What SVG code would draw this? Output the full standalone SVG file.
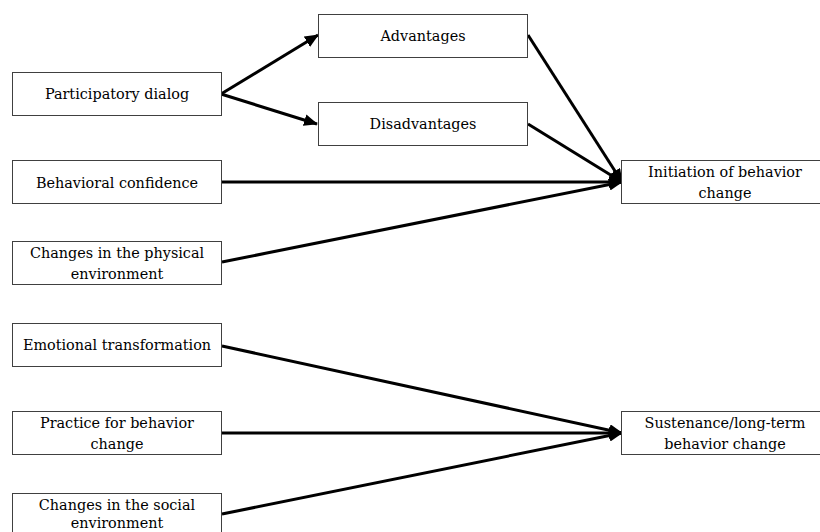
<svg xmlns="http://www.w3.org/2000/svg" width="820" height="532" viewBox="0 0 820 532">
<style>
.box{fill:#fff;stroke:#404040;stroke-width:1}
.t{font-family:'DejaVu Serif','Liberation Serif',serif;font-size:14.4px;fill:#000;text-anchor:middle}
.c{stroke:#000;stroke-width:3;fill:none;marker-end:url(#ah)}
</style>
<defs>
<marker id="ah" markerUnits="userSpaceOnUse" markerWidth="14" markerHeight="12" refX="13" refY="6" orient="auto">
<path d="M0,0 L14,6 L0,12 Z" fill="#000"/>
</marker>
</defs>
<rect width="820" height="532" fill="#fff"/>
<g id="connectors">
<line class="c" x1="221" y1="94" x2="318" y2="35"/>
<line class="c" x1="221" y1="94" x2="317" y2="124"/>
<line class="c" x1="528" y1="35" x2="622" y2="182"/>
<line class="c" x1="528" y1="124" x2="622" y2="182"/>
<line class="c" x1="222" y1="182" x2="622" y2="182"/>
<line class="c" x1="222" y1="262" x2="622" y2="182"/>
<line class="c" x1="222" y1="346" x2="622" y2="433"/>
<line class="c" x1="222" y1="433" x2="622" y2="433"/>
<line class="c" x1="222" y1="514" x2="622" y2="433"/>
</g>
<g id="participatory">
<rect class="box" x="12.5" y="72.5" width="209" height="43"/>
<text class="t" x="117" y="99">Participatory dialog</text>
</g>
<g id="advantages">
<rect class="box" x="318.5" y="14.5" width="209" height="43"/>
<text class="t" x="423" y="41">Advantages</text>
</g>
<g id="disadvantages">
<rect class="box" x="318.5" y="102.5" width="209" height="43"/>
<text class="t" x="423" y="129">Disadvantages</text>
</g>
<g id="confidence">
<rect class="box" x="12.5" y="160.5" width="209" height="43"/>
<text class="t" x="117" y="188">Behavioral confidence</text>
</g>
<g id="physical">
<rect class="box" x="12.5" y="241.5" width="209" height="43"/>
<text class="t" x="117" y="258">Changes in the physical</text>
<text class="t" x="117" y="279">environment</text>
</g>
<g id="initiation">
<rect class="box" x="621.5" y="160.5" width="209" height="43"/>
<text class="t" x="725" y="177">Initiation of behavior</text>
<text class="t" x="725" y="198">change</text>
</g>
<g id="emotional">
<rect class="box" x="12.5" y="323.5" width="209" height="43"/>
<text class="t" x="117" y="350">Emotional transformation</text>
</g>
<g id="practice">
<rect class="box" x="12.5" y="411.5" width="209" height="43"/>
<text class="t" x="117" y="428">Practice for behavior</text>
<text class="t" x="117" y="449">change</text>
</g>
<g id="social">
<rect class="box" x="12.5" y="493.5" width="209" height="43"/>
<text class="t" x="117" y="510">Changes in the social</text>
<text class="t" x="117" y="528">environment</text>
</g>
<g id="sustenance">
<rect class="box" x="621.5" y="411.5" width="209" height="43"/>
<text class="t" x="725" y="428">Sustenance/long-term</text>
<text class="t" x="725" y="449">behavior change</text>
</g>
</svg>
